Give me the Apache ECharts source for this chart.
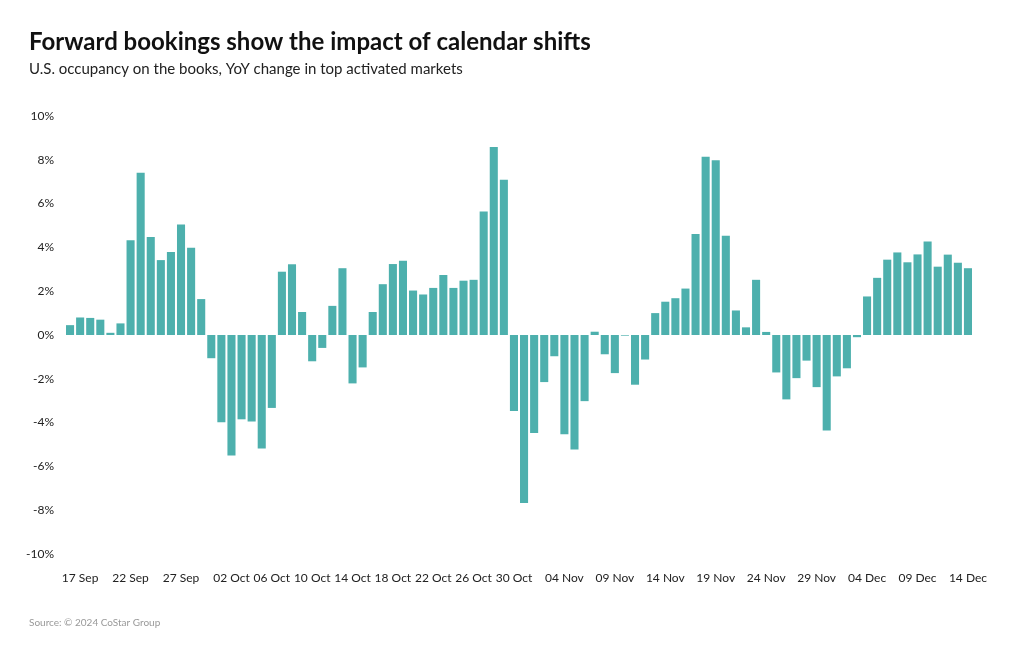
<!DOCTYPE html>
<html>
<head>
<meta charset="utf-8">
<script src="https://cdn.jsdelivr.net/npm/echarts@6/dist/echarts.min.js"></script>
<style>
html,body{margin:0;padding:0;background:#fff;}
#chart{width:1020px;height:650px;}
</style>
</head>
<body>
<div id="chart"></div>
<script>
const categories = [
"16 Sep","17 Sep","18 Sep","19 Sep","20 Sep","21 Sep","22 Sep","23 Sep","24 Sep","25 Sep","26 Sep","27 Sep","28 Sep","29 Sep","30 Sep",
"01 Oct","02 Oct","03 Oct","04 Oct","05 Oct","06 Oct","07 Oct","08 Oct","09 Oct","10 Oct","11 Oct","12 Oct","13 Oct","14 Oct","15 Oct","16 Oct","17 Oct","18 Oct","19 Oct","20 Oct","21 Oct","22 Oct","23 Oct","24 Oct","25 Oct","26 Oct","27 Oct","28 Oct","29 Oct","30 Oct","31 Oct",
"01 Nov","02 Nov","03 Nov","04 Nov","05 Nov","06 Nov","07 Nov","08 Nov","09 Nov","10 Nov","11 Nov","12 Nov","13 Nov","14 Nov","15 Nov","16 Nov","17 Nov","18 Nov","19 Nov","20 Nov","21 Nov","22 Nov","23 Nov","24 Nov","25 Nov","26 Nov","27 Nov","28 Nov","29 Nov","30 Nov",
"01 Dec","02 Dec","03 Dec","04 Dec","05 Dec","06 Dec","07 Dec","08 Dec","09 Dec","10 Dec","11 Dec","12 Dec","13 Dec","14 Dec"
];

const yoyChange = [
0.45,0.80,0.78,0.70,0.10,0.53,4.33,7.41,4.47,3.42,3.79,5.05,3.98,1.64,
-1.06,-3.98,-5.50,-3.85,-3.95,-5.18,-3.33,2.89,3.23,1.05,-1.20,-0.59,1.33,3.05,-2.21,-1.48,
1.05,2.32,3.24,3.39,2.03,1.85,2.15,2.74,2.15,2.48,2.52,5.64,8.58,7.09,-3.47,-7.67,
-4.48,-2.15,-0.97,-4.53,-5.23,-3.02,0.15,-0.88,-1.74,-0.03,-2.27,-1.12,1.00,1.52,
1.68,2.12,4.61,8.14,7.98,4.53,1.12,0.35,2.52,0.14,-1.71,-2.94,-1.97,-1.17,-2.38,-4.36,
-1.89,-1.52,-0.10,1.76,2.61,3.44,3.77,3.32,3.68,4.27,3.12,3.67,3.30,3.05
];

const xTickLabels = ["17 Sep","22 Sep","27 Sep","02 Oct","06 Oct","10 Oct","14 Oct","18 Oct","22 Oct","26 Oct","30 Oct","04 Nov","09 Nov","14 Nov","19 Nov","24 Nov","29 Nov","04 Dec","09 Dec","14 Dec"];

const yMin = -10, yMax = 10, yInterval = 2;

const FONT = "Lato, 'Noto Sans', sans-serif";
const chart = echarts.init(document.getElementById('chart'), null, {renderer:'canvas'});
chart.setOption({
  backgroundColor:'#ffffff',
  animation:false,
  title:[
    {text:'Forward bookings show the impact of calendar shifts', left:24, top:25,
     textStyle:{fontFamily:FONT, fontWeight:'bold', fontSize:24, color:'#111'}},
    {text:'U.S. occupancy on the books, YoY change in top activated markets', left:24, top:57,
     textStyle:{fontFamily:FONT, fontWeight:'normal', fontSize:15, color:'#222'}},
    {text:'Source: © 2024 CoStar Group', left:24, top:613,
     textStyle:{fontFamily:FONT, fontWeight:'normal', fontSize:10, color:'#999'}}
  ],
  grid:{left:65, right:47, top:116, bottom:96, containLabel:false},
  xAxis:{
    type:'category', data:categories, boundaryGap:true,
    axisLine:{show:false}, axisTick:{show:false},
    axisLabel:{
      interval:function(i, v){ return xTickLabels.indexOf(v) >= 0; },
      margin:18, fontFamily:FONT, fontSize:12, color:'#222', hideOverlap:false
    }
  },
  yAxis:{
    type:'value', min:yMin, max:yMax, interval:yInterval,
    axisLine:{show:false}, axisTick:{show:false}, splitLine:{show:false},
    axisLabel:{formatter:'{value}%', margin:11, fontFamily:FONT, fontSize:12, color:'#222'}
  },
  series:[{
    type:'bar', data:yoyChange, barCategoryGap:'20%',
    itemStyle:{color:'#4DB0AD'}
  }]
});
</script>
</body>
</html>
